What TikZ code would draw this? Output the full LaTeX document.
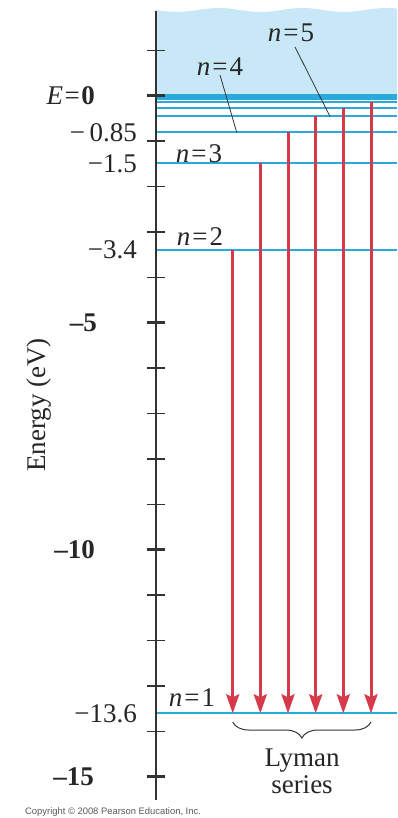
\documentclass[tikz,border=0pt]{standalone}
\usepackage{fontspec}
\setmainfont{Liberation Serif}
\newfontfamily\copyfont{Liberation Sans}
\usetikzlibrary{arrows.meta,decorations.pathreplacing}
\definecolor{levelblue}{HTML}{2AAADC}
\definecolor{skyfill}{HTML}{C8E8F7}
\definecolor{arrowred}{HTML}{D63A4A}
\definecolor{axisgray}{HTML}{333333}
\tikzset{
  level/.style={draw=levelblue, line width=2pt},
  transition/.style={draw=arrowred, line width=3pt, -{Stealth[length=19pt,width=13pt,inset=3pt]}},
  tickminor/.style={draw=axisgray, line width=1.5pt},
  tickmajor/.style={draw=axisgray, line width=3pt},
  lbl/.style={font=\fontsize{27}{31}\selectfont, inner sep=0pt, text=black!85},
  leader/.style={draw=axisgray, line width=0.8pt},
}
\begin{document}
\begin{tikzpicture}[x=1pt,y=-1pt]
\useasboundingbox (0,0) rectangle (397,818);
% continuum
\fill[skyfill] plot[domain=156:397, samples=80] (\x, {10+2*sin((\x-156)*4.3)}) -- (397,96) -- (156,96) -- cycle;
% energy levels
\foreach \y in {95.5,97,99,101.7,107.9,116.5,132.3,163.3,250,713.3}
  \draw[level] (156,\y) -- (397,\y);
% axis
\coordinate (axtop) at (156,11);
\coordinate (axbot) at (156,800);
\draw[axisgray, line width=2pt] (axtop) -- (axbot);
\foreach \e in {1,-1,-2,-3,-4,-6,-7,-8,-9,-11,-12,-13,-14}
  \draw[tickminor] (147,{95.7-45.4*\e}) -- (165,{95.7-45.4*\e});
\foreach \e in {0,-5,-10,-15}
  \draw[tickmajor] (147,{95.7-45.4*\e}) -- (165,{95.7-45.4*\e});
% axis labels
\node[lbl, anchor=east] (e0) at (95,96) {\textit{E}\kern1.5pt=\kern1.5pt\textbf{0}};
\node[lbl, anchor=east] (v085) at (137,133) {−\,0.85};
\node[lbl, anchor=east] (v15) at (137,163.5) {−1.5};
\node[lbl, anchor=east] (v34) at (137,250) {−3.4};
\node[lbl, anchor=east] (v136) at (137,713.3) {−13.6};
\node[lbl, anchor=east] (v5) at (97,322.7) {\textbf{–5}};
\node[lbl, anchor=east] (v10) at (95,549.7) {\textbf{–10}};
\node[lbl, anchor=east] (v15b) at (94,776.7) {\textbf{–15}};
\node[lbl, rotate=90] (ylab) at (39,405) {Energy (eV)};
% level labels
\node[lbl] (n5) at (291,33) {\textit{n}\kern2pt=\kern2pt5};
\node[lbl] (n4) at (220,67) {\textit{n}\kern2pt=\kern2pt4};
\node[lbl] (n3) at (199,154) {\textit{n}\kern2pt=\kern2pt3};
\node[lbl] (n2) at (200,237) {\textit{n}\kern2pt=\kern2pt2};
\node[lbl] (n1) at (192,698) {\textit{n}\kern2pt=\kern2pt1};
\coordinate (l4) at (236.7,132.3);
\coordinate (l5) at (330,116.5);
\coordinate (s4) at (220,75);
\coordinate (s5) at (295,47);
\draw[leader] (s4) -- (l4);
\draw[leader] (s5) -- (l5);
% transitions
\coordinate (t2) at (232.7,250);
\coordinate (t3) at (260.3,163.3);
\coordinate (t4) at (288,132.3);
\coordinate (t5) at (315.7,116.5);
\coordinate (t6) at (343.3,107.9);
\coordinate (t7) at (371,101.7);
\coordinate (b2) at (232.7,713.3);
\coordinate (b3) at (260.3,713.3);
\coordinate (b4) at (288,713.3);
\coordinate (b5) at (315.7,713.3);
\coordinate (b6) at (343.3,713.3);
\coordinate (b7) at (371,713.3);
\foreach \k in {2,...,7}
  \draw[transition] (t\k) -- (b\k);
% brace
\coordinate (brl) at (232.7,722);
\coordinate (brr) at (371,722);
\draw[axisgray, line width=1pt, decorate, decoration={brace, amplitude=16pt, mirror}] (brl) -- (brr);
\node[lbl, align=center, font=\fontsize{27}{27}\selectfont] (lyman) at (302,771) {Lyman\\series};
% copyright
\node[anchor=west, inner sep=0pt, text=black!65, font=\copyfont\fontsize{9.4}{11}\selectfont] (copy) at (25,812) {Copyright © 2008 Pearson Education, Inc.};
\end{tikzpicture}
\end{document}
